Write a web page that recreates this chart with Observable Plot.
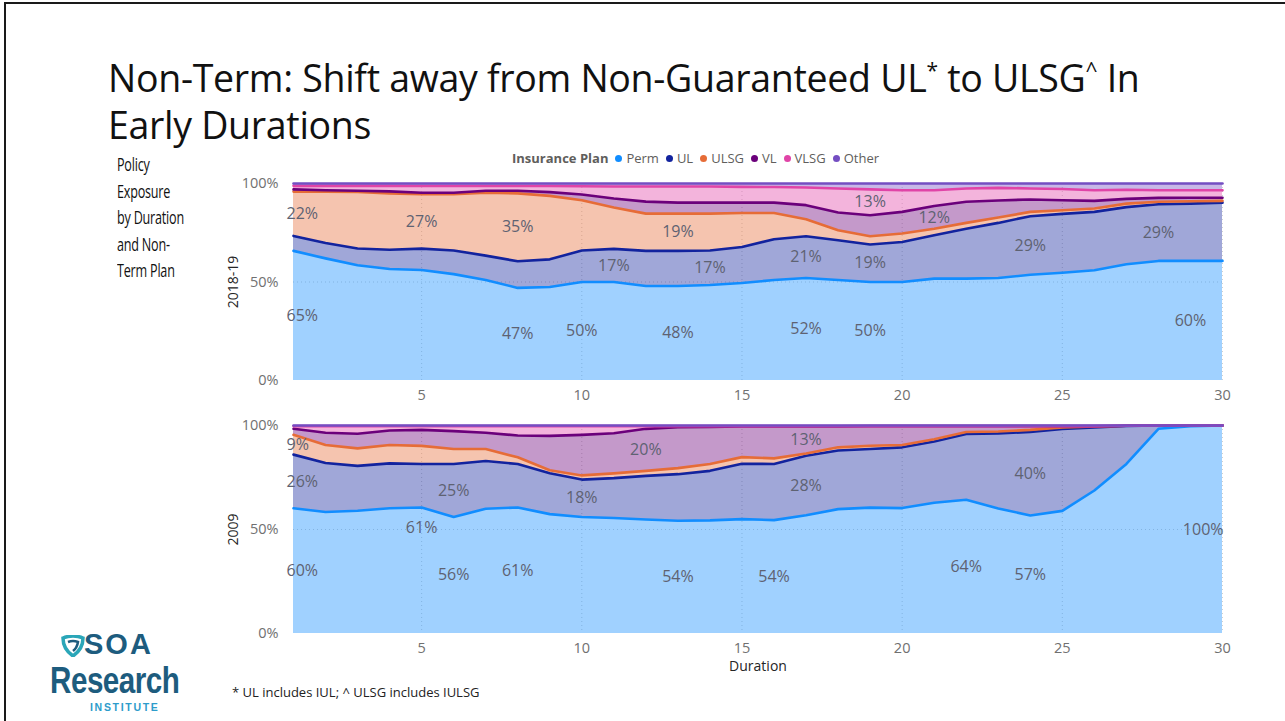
<!DOCTYPE html>
<html>
<head>
<meta charset="utf-8">
<script src="https://cdn.jsdelivr.net/npm/d3@7"></script>
<script src="https://cdn.jsdelivr.net/npm/@observablehq/plot@0.6"></script>
<style>
  html, body { margin: 0; padding: 0; background: #fff; }
  body { width: 1285px; height: 721px; position: relative; overflow: hidden; font-family: "Open Sans", "Noto Sans", sans-serif; }
  .frame { position: absolute; left: 4px; top: 2px; width: 1300px; height: 800px; border-left: 2px solid #1a1a1a; border-top: 2px solid #1a1a1a; }
  .title { position: absolute; left: 108px; top: 54px; width: 1120px; font-size: 37.5px; line-height: 47px; color: #111; font-weight: 400; letter-spacing: -0.3px; white-space: nowrap; }
  .title .sup { font-size: 21px; position: relative; top: -14px; line-height: 0; }
  .side { position: absolute; left: 117px; top: 151px; font-size: 17.5px; line-height: 26.5px; color: #111; transform: scaleX(0.72); transform-origin: 0 0; white-space: nowrap; letter-spacing: -0.3px; }
  .legend { position: absolute; left: 512px; top: 149px; font-size: 13px; color: #605E5C; white-space: nowrap; display: flex; align-items: center; }
  .legend b { font-weight: 700; margin-right: 7px; }
  .legend span { display: inline-flex; align-items: center; margin-right: 7px; }
  .legend i { display: inline-block; width: 7px; height: 7px; border-radius: 50%; margin-right: 4px; }
  .panel { position: absolute; left: 0; }
  .foot { position: absolute; left: 232px; top: 683px; font-size: 13px; color: #222; }
  .logo { position: absolute; left: 50px; top: 632px; width: 140px; height: 80px; font-family: "Liberation Sans", Arial, sans-serif; font-weight: 700; }
  .logo div { white-space: nowrap; line-height: normal; }
  .logo .soa { position: absolute; left: 34px; top: -4px; font-size: 29px; color: #1D5C7E; letter-spacing: 2px; }
  .logo .res { position: absolute; left: 0; top: 28px; font-size: 37px; color: #1D5C7E; letter-spacing: -0.6px; transform: scaleX(0.8); transform-origin: 0 0; }
  .logo .inst { position: absolute; left: 40px; top: 69px; font-size: 10.5px; color: #2D9CCB; letter-spacing: 1.7px; }
  .logo svg { position: absolute; left: 11px; top: 3px; }
</style>
</head>
<body>
<div class="frame"></div>
<div class="title">Non-Term: Shift away from Non-Guaranteed UL<span class="sup">*</span> to ULSG<span class="sup">^</span> In<br>Early Durations</div>
<div class="side">Policy<br>Exposure<br>by Duration<br>and Non-<br>Term Plan</div>
<div class="legend" id="legend"></div>
<div class="panel" id="top" style="top:170px"></div>
<div class="panel" id="bottom" style="top:410px"></div>
<div class="foot">* UL includes IUL; ^ ULSG includes IULSG</div>
<div class="logo">
  <svg width="24" height="22" viewBox="0 0 24 22"><path d="M2 3 Q12 -1 22 3 Q22 14 12 21 Q2 14 2 3 Z" fill="none" stroke="#2AA6B8" stroke-width="3.5"/><path d="M7 7 Q12 5 17 7 Q16 13 12 16" fill="none" stroke="#1D5C7E" stroke-width="2.5"/></svg>
  <div class="soa">SOA</div>
  <div class="res">Research</div>
  <div class="inst">INSTITUTE</div>
</div>
<script>
// ---------- data ----------
const durations = [1,2,3,4,5,6,7,8,9,10,11,12,13,14,15,16,17,18,19,20,21,22,23,24,25,26,27,28,29,30];
const seriesNames = ["Perm", "UL", "ULSG", "VL", "VLSG", "Other"];
const seriesColors = ["#118DFF", "#12239E", "#E66C37", "#6B007B", "#E044A7", "#744EC2"];
const xTicks = [5, 10, 15, 20, 25, 30];
const yTicks = [0, 0.5, 1];

// 2018-19 shares (%) by duration
const perm2018 = [65.8,62,58.5,56.6,56,54,51,47,47.5,50,50,48,48,48.5,49.5,51,52,51,50,50,51.7,51.7,52,53.7,54.7,56,59,60.7,60.7,60.7];
const ul2018   = [7.6,7.8,8.5,9.8,10.8,12,12.4,13.5,14,16,16.8,17.8,17.8,17.5,18.3,20.7,21.2,20.2,19,20.3,22,25.3,28,29.7,29.9,29.6,29,28.8,29.1,29.6];
const ulsg2018 = [22.5,26.1,28.7,28.6,27.6,28.6,31.9,34.5,32.2,25.5,21,18.9,18.9,18.7,17.2,13.3,8.7,5.1,4.2,4.3,3.3,3,2.7,2.2,1.8,1.7,1.8,1.2,1.2,0.9];
const vl2018   = [1.1,0.7,0.6,1,0.7,0.7,1,1.3,1.9,2.9,4.6,6.1,5.6,5.6,5.3,5.3,7.1,9,10.7,11,11.6,10.7,8.7,6.3,5.1,3.9,2.4,2,1.8,1.6];
const vlsg2018 = [1.8,2.2,2.5,2.8,3.4,3.4,2.4,2.4,3.1,4.2,6.1,7.7,8.2,8.2,8,7.9,9,12.2,13.1,11,8,6.8,6.4,5.6,5.7,5.4,4.6,3.9,3.8,3.8];
const other2018 = [1.2,1.2,1.2,1.2,1.3,1.3,1.3,1.3,1.3,1.4,1.5,1.5,1.5,1.5,1.7,1.8,2,2.5,3,3.4,3.4,2.5,2.2,2.5,2.8,3.4,3.2,3.4,3.4,3.4];

// 2009 shares (%) by duration
const perm2009 = [60.2,58.4,59,60.2,60.6,56,60,60.6,57.4,56,55.5,54.8,54.2,54.4,55,54.5,56.5,59.8,60.5,60.3,62.9,64.4,60.2,56.8,59,68.9,81.5,98.4,99.7,100];
const ul2009   = [25.8,23.6,21.6,21.6,20.9,25.5,22.9,20.9,19.6,18,19.2,21,22.4,23.8,26.6,27,28.4,28.2,28.2,29.2,29.5,31.6,36.1,40.2,39.4,30.3,18.3,1.6,0.3,0];
const ulsg2009 = [9.5,8.6,8.4,8.8,8.7,7.2,5.8,3.2,1.5,2,2.3,2.4,2.9,3.3,3.2,2.7,1.1,1.5,1.6,1.1,1.1,1,0.9,1,0.8,0.5,0.1,0,0,0];
const vl2009   = [2.9,5.9,7,7,7.7,8.6,7.8,10.5,16.5,19.5,19.3,20.2,19.7,17.8,14.7,15.3,13,10.1,9.4,9.1,6.3,2.8,2.6,1.8,0.6,0.2,0,0,0,0];
const vlsg2009 = [1.3,3.2,3.7,2.1,1.8,2.4,3.2,4.5,4.7,4.2,3.4,1.3,0.5,0.4,0.2,0.2,0.1,0.1,0,0,0,0,0,0,0,0,0,0,0,0];
const other2009 = [0.3,0.3,0.3,0.3,0.3,0.3,0.3,0.3,0.3,0.3,0.3,0.3,0.3,0.3,0.3,0.3,0.3,0.3,0.3,0.3,0.3,0.3,0.3,0.3,0.3,0.3,0.1,0,0,0];

// data labels shown in the chart: [series, duration, text]
const labels2018 = [
  ["Perm",1,"65%"],["Perm",8,"47%"],["Perm",10,"50%"],["Perm",13,"48%"],["Perm",17,"52%"],["Perm",19,"50%"],["Perm",29,"60%"],
  ["UL",11,"17%"],["UL",14,"17%"],["UL",17,"21%"],["UL",19,"19%"],["UL",24,"29%"],["UL",28,"29%"],
  ["ULSG",1,"22%"],["ULSG",5,"27%"],["ULSG",8,"35%"],["ULSG",13,"19%"],
  ["VL",21,"12%"],["VLSG",19,"13%"]
];
const labels2009 = [
  ["Perm",1,"60%"],["Perm",5,"61%"],["Perm",6,"56%"],["Perm",8,"61%"],["Perm",13,"54%"],["Perm",16,"54%"],["Perm",22,"64%"],["Perm",24,"57%"],["Perm",30,"100%"],
  ["UL",1,"26%"],["UL",6,"25%"],["UL",10,"18%"],["UL",17,"28%"],["UL",24,"40%"],
  ["ULSG",1,"9%"],["VL",12,"20%"],["VL",17,"13%"]
];
// labels lifted to avoid overlap (as in the original)
const lifted2009 = [["Perm",5]];

// ---------- build ----------
function rows(cols, labels, lifted) {
  const out = [];
  seriesNames.forEach((s, i) => {
    durations.forEach((d, j) => {
      const lab = labels.find(l => l[0] === s && l[1] === d);
      const lift = lifted.some(l => l[0] === s && l[1] === d);
      out.push({ d, s, v: cols[i][j], label: lab ? lab[2] : "", lift });
    });
  });
  return out;
}
const data2018 = rows([perm2018, ul2018, ulsg2018, vl2018, vlsg2018, other2018], labels2018, []);
const data2009 = rows([perm2009, ul2009, ulsg2009, vl2009, vlsg2009, other2009], labels2009, lifted2009);

const font = "'Open Sans', 'Noto Sans', sans-serif";
const stackOpts = { x: "d", y: "v", z: "s", order: seriesNames, offset: "normalize" };

function panel(data, { height, marginTop, marginBottom, yLabel, xLabel }) {
  const txt = (pred) => (r) => (pred(r) ? r.label : "");
  const labelStyle = { fill: "#5E6272", fontSize: 16, fontFamily: font };
  return Plot.plot({
    width: 1285, height, marginLeft: 293, marginRight: 63, marginTop, marginBottom,
    style: { fontFamily: font, fontSize: "14.5px", color: "#707070", background: "transparent", overflow: "visible" },
    x: { domain: [1, 30], ticks: xTicks, tickSize: 0, tickPadding: 9, label: xLabel, labelAnchor: "center", labelArrow: "none", labelOffset: 37 },
    y: { domain: [0, 1], ticks: yTicks, tickFormat: d3.format(".0%"), tickSize: 0, tickPadding: 15, label: yLabel, labelAnchor: "center", labelArrow: "none", labelOffset: 65 },
    color: { domain: seriesNames, range: seriesColors },
    marks: [
      Plot.gridX(xTicks, { stroke: "#cfcfcf", strokeOpacity: 1, strokeDasharray: "1,3" }),
      Plot.gridY([0.5], { stroke: "#cfcfcf", strokeOpacity: 1, strokeDasharray: "1,3" }),
      Plot.areaY(data, { ...stackOpts, fill: "s", fillOpacity: 0.4 }),
      Plot.lineY(data, Plot.stackY2({ ...stackOpts, stroke: "s", strokeWidth: 2.6 })),
      Plot.text(data, Plot.stackY({ ...stackOpts, text: txt(r => r.d > 1 && r.d < 30 && !r.lift), textAnchor: "middle", ...labelStyle })),
      Plot.text(data, Plot.stackY({ ...stackOpts, text: txt(r => r.d === 1), textAnchor: "start", dx: -7, ...labelStyle })),
      Plot.text(data, Plot.stackY({ ...stackOpts, text: txt(r => r.d === 30), textAnchor: "end", dx: 1, ...labelStyle })),
      Plot.text(data, Plot.stackY({ ...stackOpts, text: txt(r => r.lift), textAnchor: "middle", dy: -43, ...labelStyle }))
    ]
  });
}

const topChart = panel(data2018, { height: 240, marginTop: 13, marginBottom: 30, yLabel: "2018-19", xLabel: null });
const bottomChart = panel(data2009, { height: 275, marginTop: 15, marginBottom: 52, yLabel: "2009", xLabel: "Duration" });
for (const c of [topChart, bottomChart]) {
  c.querySelectorAll("[aria-label='y-axis label'] text, [aria-label='x-axis label'] text").forEach(t => { t.style.fill = "#252525"; t.style.fontSize = "14px"; });
}
document.getElementById("top").appendChild(topChart);
document.getElementById("bottom").appendChild(bottomChart);

// legend
const legend = document.getElementById("legend");
legend.innerHTML = "<b>Insurance Plan</b>" + seriesNames.map((s, i) =>
  `<span><i style="background:${seriesColors[i]}"></i>${s}</span>`).join("");
</script>
</body>
</html>
